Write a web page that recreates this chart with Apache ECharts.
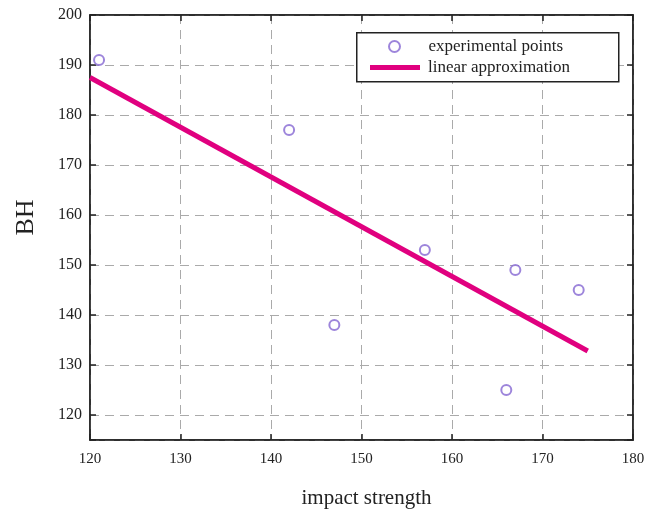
<!DOCTYPE html>
<html>
<head>
<meta charset="utf-8">
<script src="https://cdn.jsdelivr.net/npm/echarts@6/dist/echarts.min.js"></script>
<style>
  html, body { margin: 0; padding: 0; background: #fff; }
  #chart { width: 646px; height: 512px; }
</style>
</head>
<body>
<div id="chart"></div>
<script>
// measured points (impact strength, BH)
const pointsX = [121, 142, 147, 157, 166, 167, 174];
const pointsY = [191, 177, 138, 153, 125, 149, 145];
// ends of the fitted line
const fitX = [120, 175];
const fitY = [187.5, 132.8];

const serif = "Liberation Serif";
const chart = echarts.init(document.getElementById("chart"));

const scatterData = pointsX.map((x, i) => [x, pointsY[i]]);
const lineData = fitX.map((x, i) => [x, fitY[i]]);

const tickStyle = { inside: true, length: 6, lineStyle: { color: "#222", width: 1.5 } };
const dashed = { show: true, lineStyle: { color: "#aaa", type: [9, 6], width: 1 } };

const options = {
  animation: false,
  grid: {
    left: 90, right: 13, top: 15, bottom: 72,
    outerBoundsMode: "none",
    show: true, borderColor: "#222", borderWidth: 1.5,
  },
  xAxis: [
    {
      type: "value", min: 120, max: 180, interval: 10,
      axisLine: { show: true, lineStyle: { color: "#222", width: 1.5 } },
      axisTick: tickStyle,
      axisLabel: { color: "#222", fontFamily: serif, fontSize: 15, margin: 12 },
      splitLine: dashed,
      name: "impact strength", nameLocation: "middle", nameGap: 48,
      nameTextStyle: { color: "#222", fontFamily: serif, fontSize: 21, padding: [0, 0, 0, 10] },
    },
    {
      type: "value", position: "top", min: 120, max: 180, interval: 10,
      axisLine: { show: true, lineStyle: { color: "#222", width: 1.5 } },
      axisTick: tickStyle, axisLabel: { show: false }, splitLine: { show: false },
    },
  ],
  yAxis: [
    {
      type: "value", min: 115, max: 200, minInterval: 10, maxInterval: 10, splitNumber: 8,
      axisLine: { show: true, lineStyle: { color: "#222", width: 1.5 } },
      axisTick: tickStyle,
      axisLabel: {
        color: "#222", fontFamily: serif, fontSize: 16, margin: 8,
        formatter: (v) => (v % 10 === 0 ? String(v) : ""),
      },
      splitLine: dashed,
      name: "BH", nameLocation: "middle", nameGap: 51,
      nameTextStyle: { color: "#222", fontFamily: serif, fontSize: 26, padding: [0, 0, 0, 20] },
    },
    {
      type: "value", position: "right", min: 115, max: 200, minInterval: 10, maxInterval: 10, splitNumber: 8,
      axisLine: { show: true, lineStyle: { color: "#222", width: 1.5 } },
      axisTick: tickStyle, axisLabel: { show: false }, splitLine: { show: false },
    },
  ],
  legend: [
    {
      data: ["experimental points"], orient: "vertical",
      left: 388, top: 38, padding: 0, z: 10,
      itemWidth: 50, itemHeight: 11,
      textStyle: { color: "#222", fontFamily: serif, fontSize: 17, padding: [0, 0, 0, 4] },
    },
    {
      data: [{ name: "linear approximation", icon: "rect" }], orient: "vertical",
      left: 370, top: 59, padding: 0, z: 10,
      itemWidth: 50, itemHeight: 5,
      textStyle: { color: "#222", fontFamily: serif, fontSize: 17, padding: [0, 0, 0, 3] },
    },
  ],
  graphic: [
    {
      type: "rect", left: 356, top: 32, z: 5,
      shape: { width: 262, height: 49 },
      style: { fill: "#fff", stroke: "#222", lineWidth: 1.5 },
    },
  ],
  series: [
    {
      name: "experimental points", type: "scatter",
      symbol: "emptyCircle", symbolSize: 10,
      itemStyle: { color: "#8466d2", borderColor: "#8466d2", borderWidth: 1.5 },
      data: scatterData, z: 4,
    },
    {
      name: "linear approximation", type: "line",
      showSymbol: false, symbol: "none",
      lineStyle: { color: "#e0007f", width: 5 },
      itemStyle: { color: "#e0007f" },
      data: lineData, z: 3,
    },
  ],
};

chart.setOption(options);
</script>
</body>
</html>
